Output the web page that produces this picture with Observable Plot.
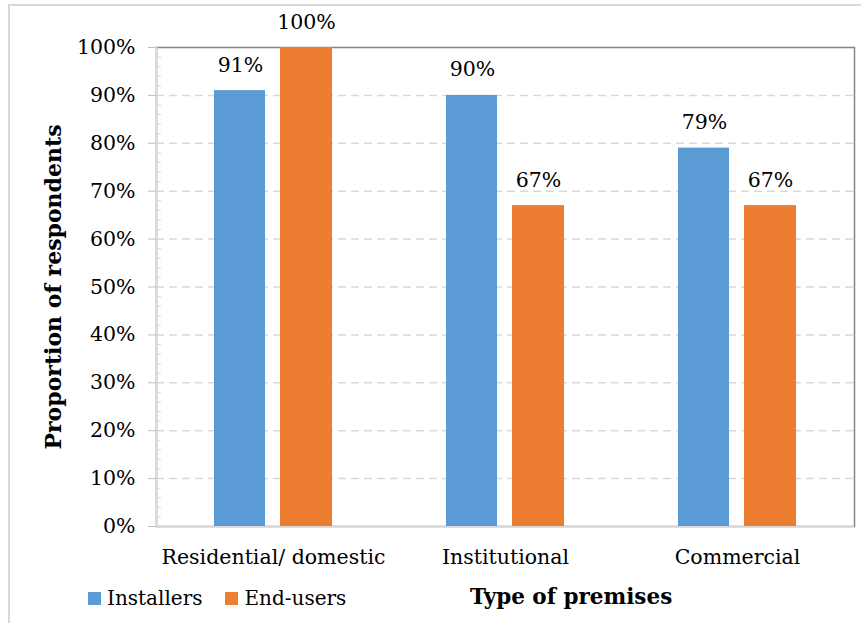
<!DOCTYPE html>
<html>
<head>
<meta charset="utf-8">
<script src="https://cdn.jsdelivr.net/npm/d3@7"></script>
<script src="https://cdn.jsdelivr.net/npm/@observablehq/plot@0.6"></script>
<style>
  html, body { margin: 0; padding: 0; background: #fff; }
  #wrap { position: relative; width: 861px; height: 623px; overflow: hidden; font-family: "DejaVu Serif", serif; }
  #border { position: absolute; left: 8px; top: 4px; width: 900px; height: 700px; border: 2px solid #d9d9d9; box-sizing: border-box; }
  #chart { position: absolute; left: 0; top: 0; }
  #legend { position: absolute; left: 88px; top: 586px; display: flex; align-items: center; font-size: 20px; color: #000; }
  .item { display: flex; align-items: center; margin-right: 23px; }
  .swatch { width: 13px; height: 13px; margin-right: 6px; }
  #xtitle { position: absolute; left: 470px; top: 584px; font-size: 21.5px; font-weight: bold; color: #000; }
</style>
</head>
<body>
<div id="wrap">
  <div id="border"></div>
  <div id="chart"></div>
  <div id="legend"></div>
  <div id="xtitle"></div>
</div>
<script>
// Premise types and the share of each respondent group
const categories = ["Residential/ domestic", "Institutional", "Commercial"];
const seriesNames = ["Installers", "End-users"];
const installers = [91, 90, 79];
const endUsers = [100, 67, 67];
const seriesColors = ["#5b9bd5", "#ed7d31"];
const yTicks = [0, 10, 20, 30, 40, 50, 60, 70, 80, 90, 100];
const yMinorTicks = d3.range(0, 101, 2).filter(d => d % 10 !== 0);
const yTitle = "Proportion of respondents";
const xTitle = "Type of premises";

const pct = d => `${d}%`;
const rowsFor = values => categories.map((c, i) => ({category: c, value: values[i]}));
const installerRows = rowsFor(installers);
const endUserRows = rowsFor(endUsers);

const chart = Plot.plot({
  width: 861,
  height: 580,
  marginLeft: 156,
  marginRight: 7,
  marginTop: 47,
  marginBottom: 54,
  style: {fontFamily: "DejaVu Serif", fontSize: "20.5px", color: "#000", background: "transparent"},
  x: {domain: categories, padding: 0},
  y: {domain: [0, 100]},
  marks: [
    Plot.ruleY(yTicks.filter(d => d > 0 && d < 100), {stroke: "#d9d9d9", strokeWidth: 1.5, strokeDasharray: "8,5"}),
    Plot.frame({stroke: "#858585", strokeWidth: 1.5}),
    Plot.frame({anchor: "left", stroke: "#d9d9d9", strokeWidth: 2}),
    Plot.ruleY([0], {stroke: "#d9d9d9", strokeWidth: 2}),
    Plot.axisY(yMinorTicks, {tickSize: -5, tickFormat: () => "", label: null, stroke: "#d9d9d9"}),
    Plot.axisY(yTicks, {tickSize: 8, tickPadding: 13, tickFormat: pct, label: null, stroke: "#bfbfbf", fill: "#000"}),
    Plot.axisX({tickSize: 0, tickPadding: 23, label: null, fill: "#000"}),
    Plot.barY(installerRows, {x: "category", y: "value", fill: seriesColors[0], insetLeft: 57, insetRight: 124}),
    Plot.barY(endUserRows, {x: "category", y: "value", fill: seriesColors[1], insetLeft: 123, insetRight: 57}),
    Plot.text(installerRows, {x: "category", y: "value", text: d => pct(d.value), dx: -33, dy: -19, lineAnchor: "bottom", fill: "#000"}),
    Plot.text(endUserRows, {x: "category", y: "value", text: d => pct(d.value), dx: 33, dy: -19, lineAnchor: "bottom", fill: "#000"}),
    Plot.text([yTitle], {frameAnchor: "left", text: d => d, rotate: -90, textAnchor: "middle", lineAnchor: "middle", dx: -103, fontWeight: "bold", fontSize: 22, fill: "#000"})
  ]
});
document.getElementById("chart").appendChild(chart);

// Series key and axis title under the plot
const legend = document.getElementById("legend");
seriesNames.forEach((name, i) => {
  const item = document.createElement("div");
  item.className = "item";
  const sw = document.createElement("span");
  sw.className = "swatch";
  sw.style.background = seriesColors[i];
  const label = document.createElement("span");
  label.textContent = name;
  item.appendChild(sw);
  item.appendChild(label);
  legend.appendChild(item);
});
document.getElementById("xtitle").textContent = xTitle;
</script>
</body>
</html>
